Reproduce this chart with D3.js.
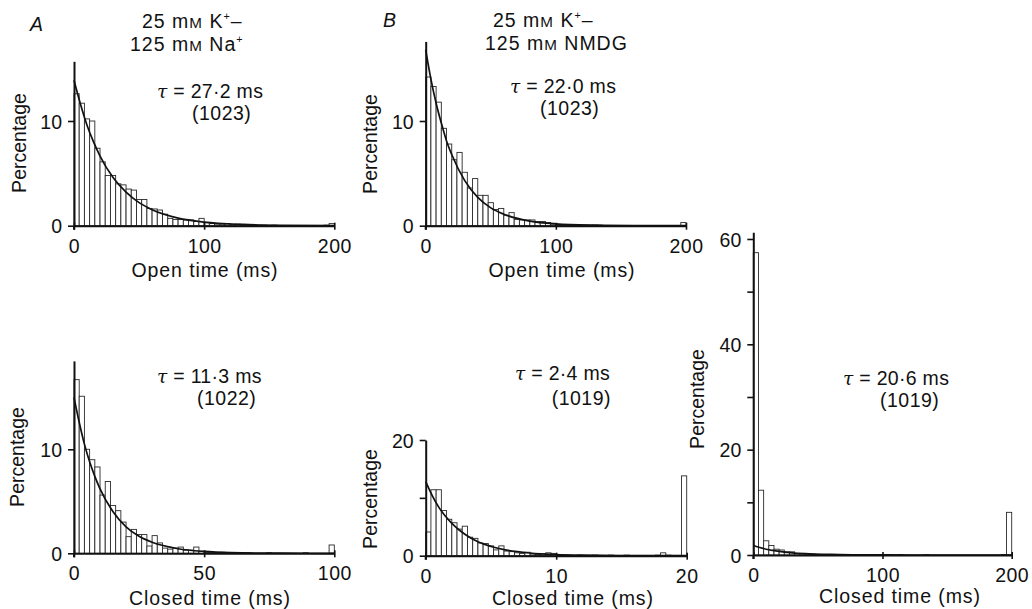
<!DOCTYPE html>
<html><head><meta charset="utf-8">
<script src="https://cdn.jsdelivr.net/npm/d3@7"></script>
<style>
body{margin:0;background:#fff;}
svg text{font-family:"Liberation Sans",Arial,Helvetica,sans-serif;fill:#111;}
</style></head><body>
<svg id="c" width="1032" height="609"></svg>
<script>
// ---------------- DATA ----------------
// Bin widths (ms)
const aOpenBin = 4, aClosedBin = 2, bOpenBin = 4, bClosedBin = 0.4, bClosedLongBin = 4;

// A: 25 mM K+ – 125 mM Na+, open times (4 ms bins, 0–200 ms), percentage
const aOpenPct = [12.6, 11.7, 10.2, 10.0, 7.4, 6.1, 4.8, 4.8, 4.0, 3.9,
                  3.5, 3.4, 2.5, 2.5, 1.65, 1.6, 1.5, 1.1, 0.7, 0.6,
                  0.6, 0.55, 0.55, 0.4, 0.7, 0.3, 0.2, 0.15, 0.15, 0.2,
                  0.1, 0.15, 0.05, 0.05, 0.05, 0.05, 0.05, 0, 0.05, 0,
                  0, 0, 0, 0, 0, 0, 0, 0, 0.05, 0.2];
// A: closed times (2 ms bins, 0–100 ms)
const aClosedPct = [16.7, 15.1, 10.0, 9.0, 8.3, 5.6, 6.9, 4.6, 4.1, 3.0,
                    1.6, 2.3, 1.8, 1.8, 0.7, 1.7, 1.0, 0.5, 0.4, 0.5,
                    0.6, 0.3, 0.3, 0.6, 0.2, 0.1, 0.1, 0.05, 0.1, 0.05,
                    0.05, 0.05, 0, 0.05, 0, 0, 0, 0.05, 0, 0,
                    0, 0, 0, 0, 0.05, 0, 0, 0, 0, 0.8];
// B: 25 mM K+ – 125 mM NMDG, open times (4 ms bins, 0–200 ms)
const bOpenPct = [14.2, 13.3, 11.8, 9.3, 7.8, 6.3, 7.0, 5.1, 3.6, 4.5,
                  2.9, 2.9, 2.2, 1.55, 1.65, 1.0, 1.25, 0.6, 0.55, 0.55,
                  0.55, 0.4, 0.4, 0.3, 0.15, 0.1, 0.05, 0.05, 0.05, 0.05,
                  0.05, 0.05, 0.05, 0.05, 0, 0, 0, 0, 0, 0,
                  0, 0, 0, 0, 0, 0, 0, 0, 0, 0.3];
// B: closed times (0.4 ms bins, 0–20 ms)
const bClosedPct = [4.1, 11.4, 11.4, 7.8, 6.3, 5.7, 4.6, 5.1, 3.2, 3.0,
                    2.2, 2.1, 1.7, 1.0, 1.7, 0.8, 0.7, 0.5, 0.4, 0.6,
                    0.3, 0.2, 0.3, 0.5, 0.4, 0.1, 0.1, 0.1, 0.05, 0.1,
                    0.05, 0.05, 0.1, 0.05, 0.05, 0.1, 0.05, 0.05, 0.1, 0.05,
                    0.05, 0.05, 0.05, 0.05, 0.1, 0.5, 0.1, 0.05, 0.05, 13.8];
// B: closed times (4 ms bins, 0–200 ms)
const bClosedLongPct = [57.4, 12.3, 2.7, 1.8, 1.1, 0.95, 0.6, 0.6, 0.3, 0.25,
                        0.2, 0.15, 0.1, 0.1, 0.1, 0.1, 0.05, 0.05, 0.05, 0.05,
                        0.05, 0.05, 0.05, 0.05, 0.05, 0.05, 0.05, 0, 0.05, 0,
                        0, 0, 0, 0.05, 0, 0, 0, 0, 0, 0,
                        0, 0, 0, 0, 0, 0, 0, 0, 0.1, 8.1];

// Fitted exponential curves: [time ms, percentage]
const aOpenFit = [[0,13.9],[5,11.6],[10,9.6],[15,8.0],[20,6.65],[30,4.6],[40,3.2],[50,2.2],[60,1.53],[80,0.73],[100,0.35],[130,0.12],[160,0.04],[200,0.01]];
const aClosedFit = [[0,15.0],[2,12.6],[4,10.5],[6,8.8],[8,7.4],[10,6.2],[15,4.0],[20,2.55],[25,1.64],[30,1.06],[40,0.44],[50,0.18],[60,0.07],[80,0.01],[100,0]];
const bOpenFit = [[0,16.8],[4,14.0],[8,11.7],[12,9.8],[16,8.1],[20,6.8],[30,4.3],[40,2.7],[50,1.7],[60,1.1],[80,0.44],[100,0.18],[130,0.05],[160,0.01],[200,0]];
const bClosedFit = [[0,12.8],[0.5,10.4],[1,8.4],[1.5,6.85],[2,5.6],[3,3.7],[4,2.4],[5,1.6],[6,1.05],[8,0.46],[10,0.2],[12,0.09],[15,0.03],[20,0]];
const bClosedLongFit = [[0,1.8],[5,1.42],[10,1.1],[15,0.87],[20,0.68],[30,0.42],[40,0.26],[60,0.1],[80,0.04],[100,0.015],[150,0],[200,0]];

// Tick labels
const xTicks200 = [0, 100, 200];
const xTicks100 = [0, 50, 100];
const xTicks20 = [0, 10, 20];
const yTicks10 = [0, 10];
const yTicks20 = [0, 20];
const yMinor20 = [10];
const yTicks60 = [0, 20, 40, 60];
const yMinor60 = [10, 30, 50];

// Annotation texts
const tauTexts = ["27·2", "11·3", "22·0", "2·4", "20·6"];
const nTexts = ["(1023)", "(1022)", "(1023)", "(1019)", "(1019)"];
const xTitles = ["Open time (ms)", "Closed time (ms)", "Open time (ms)", "Closed time (ms)", "Closed time (ms)"];

// ---------------- LAYOUT ----------------
const panels = [
  {vals:aOpenPct, bin:aOpenBin, fit:aOpenFit, xDom:200, xR:[74,334.3], y0:225.7, ppu:10.47, yMax:15.7,
   xt:xTicks200, yt:yTicks10, ym:[], tau:[157,98], n:[192,119.5], xl:[205,277], yl:[26,143]},
  {vals:aClosedPct, bin:aClosedBin, fit:aClosedFit, xDom:100, xR:[74,334.3], y0:553.3, ppu:10.4, yMax:18.5,
   xt:xTicks100, yt:yTicks10, ym:[], tau:[157,382.7], n:[197,404.5], xl:[210,605], yl:[24,457]},
  {vals:bOpenPct, bin:bOpenBin, fit:bOpenFit, xDom:200, xR:[425.7,686], y0:225.7, ppu:10.47, yMax:17.6,
   xt:xTicks200, yt:yTicks10, ym:[], tau:[510,93], n:[540,114.5], xl:[562,277], yl:[377,144]},
  {vals:bClosedPct, bin:bClosedBin, fit:bClosedFit, xDom:20, xR:[425.7,686.7], y0:555.7, ppu:5.785, yMax:20,
   xt:xTicks20, yt:yTicks20, ym:yMinor20, tau:[515,380], n:[551.7,405], xl:[573,605], yl:[377,499]},
  {vals:bClosedLongPct, bin:bClosedLongBin, fit:bClosedLongFit, xDom:200, xR:[753.3,1011.7], y0:555, ppu:5.267, yMax:61.3,
   xt:xTicks200, yt:yTicks60, ym:yMinor60, tau:[843,385], n:[880,406.5], xl:[900,603], yl:[704,399]}
];

const FS = 19.5;
const svg = d3.select("#c");

panels.forEach((p, pi) => {
  const x = d3.scaleLinear().domain([0, p.xDom]).range(p.xR);
  const y = d3.scaleLinear().domain([0, p.yMax]).range([p.y0, p.y0 - p.yMax * p.ppu]);
  const g = svg.append("g");

  // bars
  g.append("g").selectAll("rect")
    .data(p.vals.map((v, i) => ({v, i})).filter(d => d.v > 0))
    .join("rect")
    .attr("x", d => x(d.i * p.bin))
    .attr("width", d => x((d.i + 1) * p.bin) - x(d.i * p.bin))
    .attr("y", d => y(d.v))
    .attr("height", d => y(0) - y(d.v))
    .attr("fill", "#fff")
    .attr("stroke", "#2a2a2a")
    .attr("stroke-width", 0.9);

  // fitted curve
  g.append("path")
    .datum(p.fit)
    .attr("fill", "none")
    .attr("stroke", "#111")
    .attr("stroke-width", 1.7)
    .attr("d", d3.line().x(d => x(d[0])).y(d => y(d[1])).curve(d3.curveMonotoneX));

  // x axis
  const xa = g.append("g").attr("transform", `translate(0,${p.y0})`)
    .call(d3.axisBottom(x).tickValues(p.xt).tickSize(4).tickSizeOuter(0).tickPadding(9).tickFormat(d3.format("d")));
  xa.select(".domain").attr("stroke", "#111").attr("stroke-width", 2);
  xa.selectAll(".tick line").attr("y1", -3).attr("y2", 4).attr("stroke", "#111").attr("stroke-width", 1.6);
  xa.selectAll(".tick text").attr("font-size", FS).attr("letter-spacing", 0.5);
  xa.attr("font-family", null).attr("font-size", null);

  // y axis
  const allY = p.yt.concat(p.ym);
  const ya = g.append("g").attr("transform", `translate(${p.xR[0]},0)`)
    .call(d3.axisLeft(y).tickValues(allY).tickSize(6).tickSizeOuter(0).tickPadding(6)
      .tickFormat(d => p.yt.includes(d) ? d3.format("d")(d) : ""));
  ya.select(".domain").attr("stroke", "#111").attr("stroke-width", 2);
  ya.selectAll(".tick line").attr("stroke", "#111").attr("stroke-width", 1.6);
  ya.selectAll(".tick text").attr("font-size", FS).attr("dy", "0.36em");
  ya.attr("font-family", null).attr("font-size", null);
  // extend y axis a little below x axis
  g.append("line").attr("x1", p.xR[0]).attr("x2", p.xR[0]).attr("y1", p.y0).attr("y2", p.y0 + 4)
    .attr("stroke", "#111").attr("stroke-width", 2);

  // axis titles
  g.append("text").attr("x", p.xl[0]).attr("y", p.xl[1]).attr("text-anchor", "middle")
    .attr("font-size", FS).attr("letter-spacing", 0.9).text(xTitles[pi]);
  g.append("text").attr("transform", `translate(${p.yl[0]},${p.yl[1]}) rotate(-90)`)
    .attr("text-anchor", "middle").attr("font-size", FS).text("Percentage");

  // tau annotation
  const t = g.append("text").attr("x", p.tau[0]).attr("y", p.tau[1]).attr("font-size", FS).attr("letter-spacing", 0.3);
  t.append("tspan").attr("font-style", "italic").attr("font-family", "DejaVu Serif, serif").attr("font-size", FS - 1).text("τ");
  t.append("tspan").text(" = " + tauTexts[pi] + " ms");
  g.append("text").attr("x", p.n[0]).attr("y", p.n[1]).attr("font-size", FS).attr("letter-spacing", 0.5).text(nTexts[pi]);
});

// panel letters & titles
function title(x, y, parts) {
  const t = svg.append("text").attr("x", x).attr("y", y).attr("font-size", FS).attr("letter-spacing", 1);
  parts.forEach(pt => {
    const s = t.append("tspan").text(pt.t);
    if (pt.small) s.attr("font-size", FS * 0.78);
    if (pt.sup) s.attr("font-size", FS * 0.55).attr("dy", -8);
    if (pt.down) s.attr("dy", 8);
  });
}
svg.append("text").attr("x", 30).attr("y", 31).attr("font-size", FS).attr("font-style", "italic").text("A");
svg.append("text").attr("x", 383).attr("y", 27).attr("font-size", FS).attr("font-style", "italic").text("B");

title(142, 28, [{t:"25 m"},{t:"M",small:true},{t:" K"},{t:"+",sup:true},{t:"–",down:true}]);
title(130, 51, [{t:"125 m"},{t:"M",small:true},{t:" Na"},{t:"+",sup:true}]);
title(493, 27, [{t:"25 m"},{t:"M",small:true},{t:" K"},{t:"+",sup:true},{t:"–",down:true}]);
title(485, 50, [{t:"125 m"},{t:"M",small:true},{t:" NMDG"}]);
</script>
</body></html>
